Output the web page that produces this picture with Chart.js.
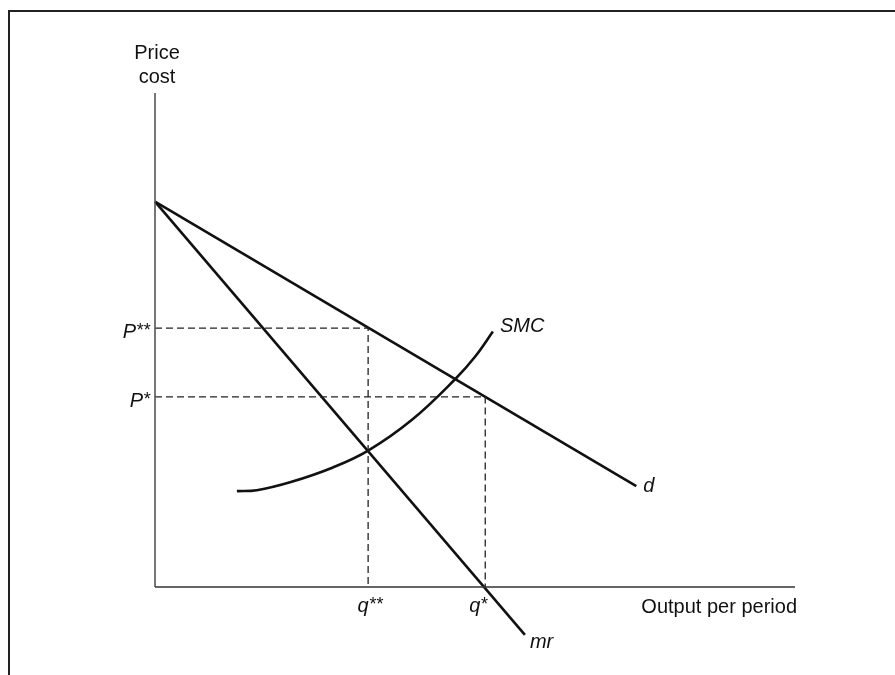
<!DOCTYPE html>
<html>
<head>
<meta charset="utf-8">
<script src="https://cdn.jsdelivr.net/npm/chart.js@4"></script>
<style>
  html, body { margin: 0; padding: 0; background: #fff; }
  #wrap { width: 895px; height: 675px; position: relative; }
</style>
</head>
<body>
<div id="wrap"><canvas id="c" width="895" height="675"></canvas></div>
<script>
// ---- data (axis units 0..100) ----
const demandX = [0, 75.2];
const demandY = [78, 20.4];
const mrX = [0, 57.8];
const mrY = [78, -9.7];
const smcX = [12.8, 15.9, 21.1, 27.8, 33.3, 40.2, 47.0, 50.0, 52.8];
const smcY = [19.4, 19.6, 21.2, 24.2, 27.6, 33.9, 42.2, 46.6, 51.7];
const priceLevels = [52.4, 38.5];
const priceLabels = ['P', 'P'];
const priceStars = ['**', '*'];
const quantityLevels = [33.3, 51.6];
const quantityLabels = ['q', 'q'];
const quantityStars = ['**', '*'];
const curveLabels = ['d', 'mr', 'SMC'];
const axisTitles = ['Price', 'cost', 'Output per period'];
const axisX = [0, 100];
const axisY = [0, 100];

const pts = (xs, ys) => xs.map((x, i) => ({x: x, y: ys[i]}));
const FONT = '"Liberation Sans", Arial, Helvetica, sans-serif';

const datasets = [
  // axes
  {data: [{x: axisX[0], y: 0}, {x: axisX[1], y: 0}], borderColor: '#333', borderWidth: 1.6},
  {data: [{x: 0, y: axisY[0]}, {x: 0, y: axisY[1]}], borderColor: '#555', borderWidth: 1.6},
  // dashed guides
  {data: [{x: 0, y: priceLevels[0]}, {x: quantityLevels[0], y: priceLevels[0]}, {x: quantityLevels[0], y: 0}],
   borderColor: '#222', borderWidth: 1.3, borderDash: [7, 4]},
  {data: [{x: 0, y: priceLevels[1]}, {x: quantityLevels[1], y: priceLevels[1]}, {x: quantityLevels[1], y: 0}],
   borderColor: '#222', borderWidth: 1.3, borderDash: [7, 4]},
  // curves
  {data: pts(demandX, demandY), borderColor: '#111', borderWidth: 2.6},
  {data: pts(mrX, mrY), borderColor: '#111', borderWidth: 2.6},
  {data: pts(smcX, smcY), borderColor: '#111', borderWidth: 2.6, tension: 0.4}
].map(d => Object.assign({showLine: true, pointRadius: 0, fill: false, clip: false, borderCapStyle: 'butt'}, d));

// draw a base letter followed by raised asterisks
function starLabel(ctx, base, stars, x, y, align) {
  const bigF = 'italic 20px ' + FONT, smallF = 'italic 18px ' + FONT;
  ctx.font = bigF; const wb = ctx.measureText(base).width;
  ctx.font = smallF; const ws = ctx.measureText(stars).width;
  const w = wb + ws;
  let left = align === 'right' ? x - w : align === 'center' ? x - w / 2 : x;
  ctx.textAlign = 'left';
  ctx.font = bigF; ctx.fillText(base, left, y);
  ctx.font = smallF; ctx.fillText(stars, left + wb, y - 2);
}

const labelPlugin = {
  id: 'labels',
  afterDraw(chart) {
    const ctx = chart.ctx;
    const xs = chart.scales.x, ys = chart.scales.y;
    const X = v => xs.getPixelForValue(v), Y = v => ys.getPixelForValue(v);
    ctx.save();
    // frame
    ctx.strokeStyle = '#222';
    ctx.lineWidth = 2;
    ctx.beginPath();
    ctx.moveTo(9, 675); ctx.lineTo(9, 11); ctx.lineTo(895, 11);
    ctx.stroke();

    ctx.fillStyle = '#111';
    ctx.textBaseline = 'alphabetic';
    // axis titles
    ctx.font = '20px ' + FONT;
    ctx.textAlign = 'center';
    ctx.fillText(axisTitles[0], X(0) + 2, Y(axisY[1]) - 34);
    ctx.fillText(axisTitles[1], X(0) + 2, Y(axisY[1]) - 10);
    ctx.textAlign = 'right';
    ctx.fillText(axisTitles[2], X(axisX[1]) + 2, Y(0) + 26);

    // price labels
    priceLabels.forEach((t, i) => starLabel(ctx, t, priceStars[i], X(0) - 5, Y(priceLevels[i]) + 10, 'right'));
    // quantity labels
    const qOff = [2, -7];
    quantityLabels.forEach((t, i) => starLabel(ctx, t, quantityStars[i], X(quantityLevels[i]) + qOff[i], Y(0) + 25, 'center'));
    // curve labels
    ctx.font = 'italic 20px ' + FONT;
    ctx.textAlign = 'left';
    ctx.fillText(curveLabels[0], X(demandX[1]) + 7, Y(demandY[1]) + 6);
    ctx.fillText(curveLabels[1], X(mrX[1]) + 5, Y(mrY[1]) + 13);
    ctx.fillText(curveLabels[2], X(smcX[smcX.length - 1]) + 7, Y(smcY[smcY.length - 1]));
    ctx.restore();
  }
};

new Chart(document.getElementById('c'), {
  type: 'scatter',
  data: {datasets: datasets},
  options: {
    responsive: false,
    animation: false,
    layout: {padding: {left: 155, right: 100, top: 93, bottom: 38.6}},
    plugins: {legend: {display: false}, tooltip: {enabled: false}},
    scales: {
      x: {type: 'linear', min: 0, max: 100, display: false},
      y: {type: 'linear', min: -10, max: 100, display: false}
    }
  },
  plugins: [labelPlugin]
});
</script>
</body>
</html>
